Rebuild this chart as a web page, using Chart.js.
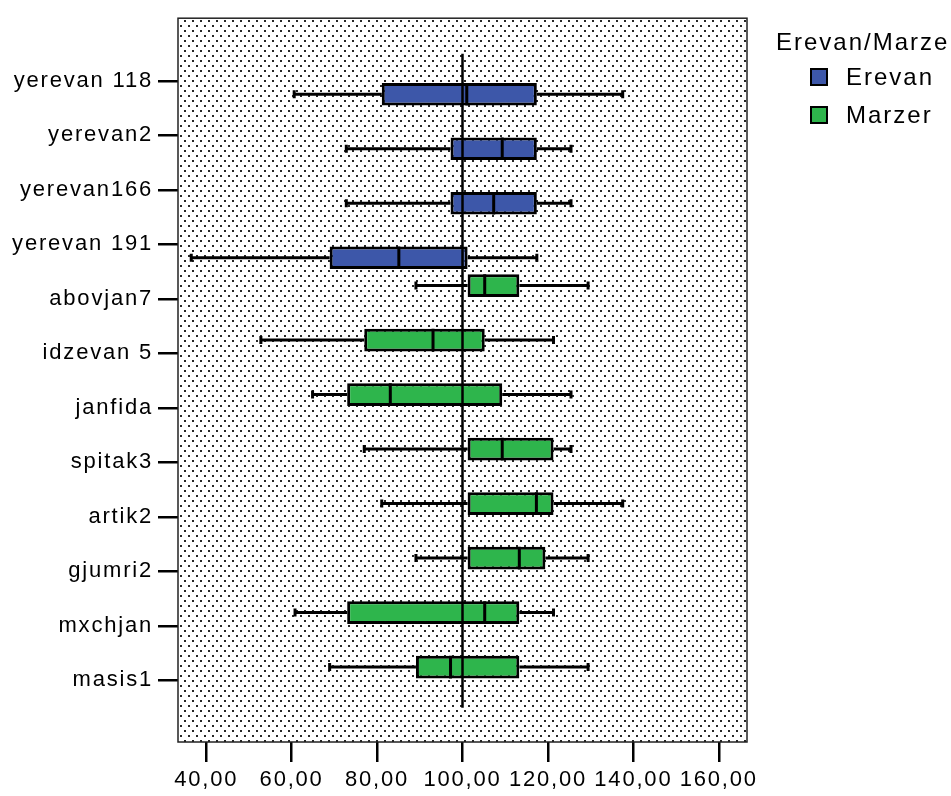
<!doctype html>
<html lang="en">
    <head>
        <meta charset="UTF-8" />
        <title>Erevan / Marzer</title>
        <script src="https://cdn.jsdelivr.net/npm/chart.js"></script>
        <style>
            html,
            body {
                margin: 0;
                padding: 0;
                background: #fff;
                overflow: hidden;
            }
            #wrap {
                position: relative;
                width: 951px;
                height: 796px;
            }
            #legend {
                position: absolute;
                left: 776px;
                top: 28px;
                font-family: "Liberation Sans", Arial, sans-serif;
                font-size: 24px;
                letter-spacing: 2px;
                color: #000;
                white-space: nowrap;
            }
            #legend ul {
                list-style: none;
                margin: 6px 0 0 34px;
                padding: 0;
            }
            #legend li {
                display: flex;
                align-items: center;
                height: 46px;
                margin-top: -8px;
            }
            #legend .swatch {
                display: inline-block;
                width: 14px;
                height: 14px;
                border: 2px solid #000;
                margin-right: 18px;
            }
        </style>
    </head>
    <body>
        <div id="wrap">
            <canvas id="boxChart" width="951" height="796"></canvas>
            <div id="legend"></div>
        </div>

        <script>
            // one box per school, top to bottom
            const rows = [
                "yerevan 118",
                "yerevan2",
                "yerevan166",
                "yerevan 191",
                "abovjan7",
                "idzevan 5",
                "janfida",
                "spitak3",
                "artik2",
                "gjumri2",
                "mxchjan",
                "masis1",
            ];
            const groups = [
                "Erevan", "Erevan", "Erevan", "Erevan",
                "Marzer", "Marzer", "Marzer", "Marzer",
                "Marzer", "Marzer", "Marzer", "Marzer",
            ];
            const lowWhisker = [60.6, 72.8, 72.8, 36.5, 89.1, 52.8, 64.9, 77.0, 81.1, 89.1, 60.8, 68.9];
            const q1 = [81.1, 97.2, 97.2, 68.9, 101.2, 77.0, 73.0, 101.2, 101.2, 101.2, 73.0, 89.1];
            const median = [101.0, 109.3, 107.3, 85.1, 105.2, 93.1, 83.1, 109.3, 117.3, 113.3, 105.2, 97.2];
            const q3 = [117.4, 117.4, 117.4, 101.2, 113.3, 105.2, 109.3, 121.3, 121.3, 119.4, 113.3, 113.3];
            const highWhisker = [137.5, 125.4, 125.4, 117.4, 129.4, 121.3, 125.4, 125.4, 137.5, 129.4, 121.3, 129.4];

            const xTicks = [40, 60, 80, 100, 120, 140, 160];
            const refValue = 100;
            const groupNames = ["Erevan", "Marzer"];
            const groupColors = { Erevan: "#3D57A9", Marzer: "#2EB54C" };

            const labelFont = { family: "'Liberation Sans', Arial, sans-serif", size: 22 };

            function boxesFor(name) {
                const out = [];
                rows.forEach((r, i) => {
                    if (groups[i] === name) out.push({ y: i, x: [q1[i], q3[i]] });
                });
                return out;
            }

            // dotted fill for the plot area
            function makeDots() {
                const tile = document.createElement("canvas");
                tile.width = 8;
                tile.height = 10;
                const t = tile.getContext("2d");
                t.fillStyle = "#262626";
                t.fillRect(0, 0, 2, 2);
                t.fillRect(4, 5, 2, 2);
                return tile;
            }

            const boxExtras = {
                id: "boxExtras",
                beforeLayout(chart) {
                    chart.ctx.letterSpacing = "1.8px";
                },
                beforeDraw(chart) {
                    const { ctx, chartArea: a } = chart;
                    ctx.letterSpacing = "1.8px";
                    ctx.save();
                    ctx.fillStyle = "#fff";
                    ctx.fillRect(a.left, a.top, a.width, a.height);
                    ctx.fillStyle = ctx.createPattern(makeDots(), "repeat");
                    ctx.fillRect(a.left, a.top, a.width, a.height);
                    ctx.restore();
                },
                afterDatasetsDraw(chart) {
                    const { ctx } = chart;
                    const xs = chart.scales.x;
                    const ys = chart.scales.y;
                    ctx.save();
                    ctx.strokeStyle = "#000";
                    ctx.lineWidth = 3;
                    chart.data.datasets.forEach((ds, di) => {
                        const meta = chart.getDatasetMeta(di);
                        meta.data.forEach((bar, j) => {
                            const i = ds.data[j].y;
                            const cy = bar.y;
                            const h = bar.height;
                            const xl = xs.getPixelForValue(lowWhisker[i]);
                            const xq1 = xs.getPixelForValue(q1[i]);
                            const xq3 = xs.getPixelForValue(q3[i]);
                            const xh = xs.getPixelForValue(highWhisker[i]);
                            const xm = xs.getPixelForValue(median[i]);
                            ctx.beginPath();
                            ctx.moveTo(xl, cy);
                            ctx.lineTo(xq1, cy);
                            ctx.moveTo(xq3, cy);
                            ctx.lineTo(xh, cy);
                            ctx.moveTo(xl, cy - 4);
                            ctx.lineTo(xl, cy + 4);
                            ctx.moveTo(xh, cy - 4);
                            ctx.lineTo(xh, cy + 4);
                            ctx.moveTo(xm, cy - h / 2);
                            ctx.lineTo(xm, cy + h / 2);
                            ctx.stroke();
                        });
                    });
                    // reference line
                    const xr = xs.getPixelForValue(refValue);
                    ctx.lineWidth = 2.5;
                    ctx.beginPath();
                    ctx.moveTo(xr, ys.getPixelForValue(-0.5));
                    ctx.lineTo(xr, ys.getPixelForValue(rows.length - 0.5));
                    ctx.stroke();
                    ctx.restore();
                },
                afterDraw(chart) {
                    const { ctx, chartArea: a } = chart;
                    ctx.save();
                    ctx.strokeStyle = "#222";
                    ctx.lineWidth = 1.5;
                    ctx.strokeRect(a.left, a.top, a.width, a.height);
                    ctx.restore();
                },
            };

            const chart = new Chart(document.getElementById("boxChart"), {
                type: "bar",
                data: {
                    datasets: groupNames.map((name) => ({
                        label: name,
                        data: boxesFor(name),
                        backgroundColor: groupColors[name],
                        borderColor: "#000",
                        borderWidth: 3,
                        borderSkipped: false,
                        // Marzer sits in the upper slot of each row
                        order: name === "Marzer" ? 0 : 1,
                        categoryPercentage: 0.98,
                        barPercentage: 0.85,
                    })),
                },
                options: {
                    indexAxis: "y",
                    responsive: false,
                    animation: false,
                    layout: { padding: { left: 0, top: 9, right: 204, bottom: 0 } },
                    plugins: {
                        legend: { display: false },
                        tooltip: { enabled: false },
                    },
                    scales: {
                        x: {
                            type: "linear",
                            min: 33.4,
                            max: 166.6,
                            afterBuildTicks: (s) => {
                                s.ticks = xTicks.map((v) => ({ value: v }));
                            },
                            afterFit: (s) => {
                                s.height = 54;
                            },
                            grid: {
                                drawOnChartArea: false,
                                tickLength: 20,
                                color: "#000",
                                lineWidth: 2.5,
                            },
                            border: { display: false },
                            ticks: {
                                padding: 5,
                                color: "#000",
                                font: labelFont,
                                maxRotation: 0,
                                callback: (v) => v.toFixed(2).replace(".", ","),
                            },
                        },
                        y: {
                            type: "linear",
                            reverse: true,
                            offset: false,
                            min: -1.15,
                            max: 12.13,
                            afterBuildTicks: (s) => {
                                s.ticks = rows.map((r, i) => ({ value: i }));
                            },
                            afterFit: (s) => {
                                s.width = 178;
                            },
                            grid: {
                                offset: false,
                                drawOnChartArea: false,
                                tickLength: 20,
                                color: "#000",
                                lineWidth: 2.5,
                            },
                            border: { display: false },
                            ticks: {
                                autoSkip: false,
                                padding: 5,
                                color: "#000",
                                font: labelFont,
                                callback: (v) => rows[v],
                            },
                        },
                    },
                },
                plugins: [boxExtras],
            });

            // legend built from the chart's own datasets
            const legend = document.getElementById("legend");
            legend.innerHTML =
                "<div>Erevan/Marzer</div><ul>" +
                chart.data.datasets
                    .map(
                        (ds) =>
                            '<li><span class="swatch" style="background:' +
                            ds.backgroundColor +
                            '"></span>' +
                            ds.label +
                            "</li>"
                    )
                    .join("") +
                "</ul>";
        </script>
    </body>
</html>
